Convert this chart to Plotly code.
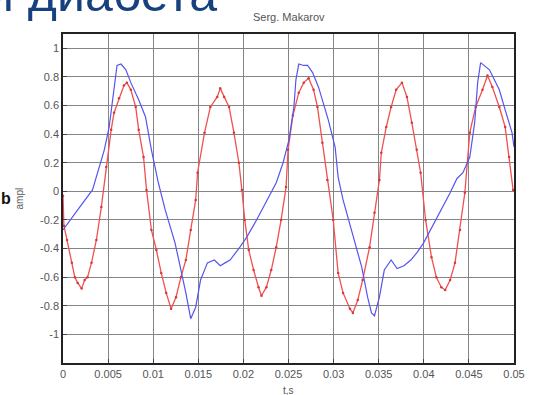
import plotly.graph_objects as go

# ---- data ----
t_blue = [0.0, 0.00109, 0.00185, 0.00327, 0.00403, 0.00458, 0.00512, 0.00566, 0.00599, 0.00643,
          0.00697, 0.00752, 0.00839, 0.00915, 0.00980, 0.01057, 0.01133, 0.01242, 0.01329, 0.01362,
          0.01416, 0.01471, 0.01525, 0.01601, 0.01678, 0.01743, 0.01797, 0.01852, 0.01961, 0.02037,
          0.02146, 0.02222, 0.02288, 0.02364, 0.02440, 0.02505, 0.02560, 0.02582, 0.02614, 0.02669,
          0.02712, 0.02767, 0.02832, 0.02941, 0.03017, 0.03050, 0.03105, 0.03159, 0.03203, 0.03312,
          0.03377, 0.03420, 0.03453, 0.03508, 0.03562, 0.03638, 0.03704, 0.03780, 0.03856, 0.03922,
          0.03998, 0.04074, 0.04139, 0.04216, 0.04292, 0.04368, 0.04434, 0.04510, 0.04564, 0.04597,
          0.04630, 0.04728, 0.04837, 0.04902, 0.04978, 0.05]
v_blue = [-0.27, -0.18, -0.11, 0.01, 0.17, 0.29, 0.45, 0.71, 0.88, 0.89,
          0.85, 0.76, 0.64, 0.52, 0.29, 0.06, -0.13, -0.36, -0.60, -0.71,
          -0.89, -0.81, -0.62, -0.50, -0.48, -0.52, -0.50, -0.48, -0.39, -0.32,
          -0.20, -0.11, -0.04, 0.06, 0.20, 0.36, 0.59, 0.78, 0.89, 0.88,
          0.88, 0.83, 0.73, 0.50, 0.31, 0.10, -0.06, -0.18, -0.27, -0.53,
          -0.74, -0.85, -0.87, -0.74, -0.55, -0.48, -0.54, -0.52, -0.48, -0.43,
          -0.36, -0.27, -0.20, -0.11, -0.01, 0.09, 0.13, 0.24, 0.48, 0.76,
          0.90, 0.85, 0.71, 0.57, 0.41, 0.31]

t_red = [0.0, 0.0001, 0.00044, 0.00098, 0.00131, 0.00163, 0.00207, 0.00240, 0.00272, 0.00316,
         0.00370, 0.00425, 0.00479, 0.00534, 0.00566, 0.00621, 0.00675, 0.00708, 0.00752, 0.00806,
         0.00839, 0.00893, 0.00926, 0.00980, 0.01035, 0.01089, 0.01144, 0.01198, 0.01253, 0.01307,
         0.01362, 0.01416, 0.01471, 0.01492, 0.01569, 0.01634, 0.01710, 0.01743, 0.01786, 0.01841,
         0.01895, 0.01950, 0.01983, 0.02015, 0.02059, 0.02113, 0.02168, 0.02200, 0.02255, 0.02309,
         0.02364, 0.02418, 0.02473, 0.02495, 0.02549, 0.02614, 0.02669, 0.02723, 0.02778, 0.02821,
         0.02876, 0.02930, 0.02996, 0.03050, 0.03105, 0.03181, 0.03214, 0.03268, 0.03322, 0.03399,
         0.03453, 0.03508, 0.03529, 0.03584, 0.03638, 0.03693, 0.03758, 0.03813, 0.03867, 0.03922,
         0.03965, 0.04020, 0.04085, 0.04139, 0.04194, 0.04237, 0.04292, 0.04346, 0.04401, 0.04455,
         0.04510, 0.04575, 0.04651, 0.04706, 0.04760, 0.04837, 0.04902, 0.04946, 0.0499]
v_red = [-0.03, -0.24, -0.34, -0.50, -0.60, -0.64, -0.68, -0.62, -0.60, -0.50,
         -0.34, -0.11, 0.17, 0.43, 0.55, 0.65, 0.74, 0.76, 0.71, 0.59,
         0.43, 0.24, 0.01, -0.27, -0.41, -0.57, -0.71, -0.82, -0.74, -0.60,
         -0.48, -0.27, -0.06, 0.13, 0.41, 0.59, 0.66, 0.72, 0.66, 0.59,
         0.41, 0.20, 0.01, -0.20, -0.41, -0.55, -0.67, -0.73, -0.67, -0.55,
         -0.39, -0.20, 0.03, 0.29, 0.53, 0.69, 0.76, 0.79, 0.71, 0.59,
         0.34, 0.08, -0.20, -0.57, -0.71, -0.82, -0.85, -0.76, -0.62, -0.39,
         -0.15, 0.08, 0.27, 0.45, 0.59, 0.71, 0.76, 0.66, 0.48, 0.29,
         0.13, -0.20, -0.46, -0.60, -0.67, -0.69, -0.62, -0.50, -0.27, -0.01,
         0.41, 0.59, 0.71, 0.81, 0.73, 0.59, 0.45, 0.24, 0.01]

x_ticks = [0, 0.005, 0.01, 0.015, 0.02, 0.025, 0.03, 0.035, 0.04, 0.045, 0.05]
x_tick_labels = ["0", "0.005", "0.01", "0.015", "0.02", "0.025", "0.03", "0.035", "0.04", "0.045", "0.05"]
y_ticks = [-1, -0.8, -0.6, -0.4, -0.2, 0, 0.2, 0.4, 0.6, 0.8, 1]
y_tick_labels = ["-1", "-0.8", "-0.6", "-0.4", "-0.2", "0", "0.2", "0.4", "0.6", "0.8", "1"]

fig = go.Figure()
fig.add_trace(go.Scatter(x=t_red, y=v_red, mode="lines+markers",
                         line=dict(color="#f05050", width=1.3),
                         marker=dict(color="#d83838", size=2.5)))
fig.add_trace(go.Scatter(x=t_blue, y=v_blue, mode="lines",
                         line=dict(color="#5555ee", width=1.2)))

axis_common = dict(showgrid=True, gridcolor="#858585", gridwidth=1,
                   showline=True, linecolor="#222", linewidth=1.5, mirror=True,
                   ticks="inside", ticklen=4, tickcolor="#444", zeroline=False,
                   tickfont=dict(family="Liberation Sans, Arial", size=11, color="#555"))

fig.update_xaxes(range=[0, 0.05], tickvals=x_ticks, ticktext=x_tick_labels, **axis_common)
fig.update_yaxes(range=[-1.2, 1.1], tickvals=y_ticks, ticktext=y_tick_labels, **axis_common)

fig.update_layout(
    width=537, height=395,
    margin=dict(l=63, r=15, t=34, b=32),
    paper_bgcolor="white", plot_bgcolor="white",
    showlegend=False,
    annotations=[
        dict(text="Serg. Makarov", x=0.5, y=1.0, xref="paper", yref="paper",
             yshift=17, yanchor="middle", showarrow=False,
             font=dict(family="Liberation Sans, Arial", size=11, color="#555")),
        dict(text="t,s", x=0.5, y=0, xref="paper", yref="paper",
             yshift=-27, yanchor="middle", showarrow=False,
             font=dict(family="Liberation Sans, Arial", size=10, color="#555")),
        dict(text="ampl", x=0, y=0.5, xref="paper", yref="paper",
             xshift=-44, textangle=-90, showarrow=False, xanchor="center",
             font=dict(family="Liberation Sans, Arial", size=10, color="#555")),
        dict(text="<b>b</b>", x=0, y=0.5, xref="paper", yref="paper",
             xshift=-57, showarrow=False, xanchor="center",
             font=dict(family="Liberation Sans, Arial", size=16, color="#111")),
        dict(text="и диабета", x=0, y=1, xref="paper", yref="paper",
             xshift=-79, yshift=40, xanchor="left", yanchor="middle", showarrow=False,
             font=dict(family="Liberation Sans, Arial", size=50, color="#17407e")),
    ],
)

fig.write_html("out.html", config={"displayModeBar": False},
               post_script="document.body.style.margin='0';document.body.style.overflow='hidden';")
